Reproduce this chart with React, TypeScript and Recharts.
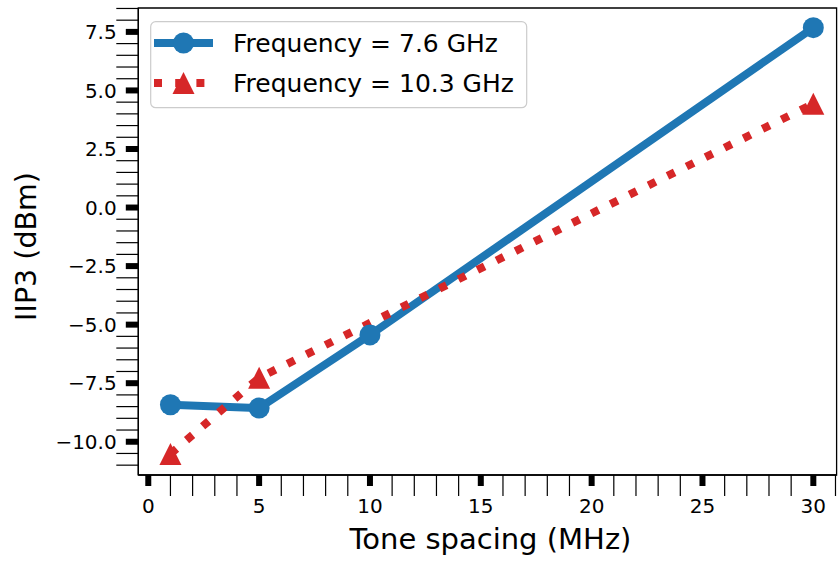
import React from "react";
import { LineChart, Line, XAxis, YAxis, ReferenceArea, Label } from "recharts";

// tone spacing (MHz) and measured IIP3 (dBm) per carrier frequency
const toneSpacing = [1, 5, 10, 30];
const iip3At76GHz = [-8.42, -8.56, -5.44, 7.68];
const iip3At103GHz: (number | null)[] = [-10.52, -7.27, null, 4.43];

const seriesNames = ["Frequency = 7.6 GHz", "Frequency = 10.3 GHz"];

const xMajorTicks = [0, 5, 10, 15, 20, 25, 30];
const xMinorTicks = [1, 2, 3, 4, 6, 7, 8, 9, 11, 12, 13, 14, 16, 17, 18, 19, 21, 22, 23, 24, 26, 27, 28, 29, 31];
const yMajorTicks = [-10, -7.5, -5, -2.5, 0, 2.5, 5, 7.5];
const yMinorTicks = [
  -11, -10.5, -9.5, -9, -8.5, -8, -7, -6.5, -6, -5.5, -4.5, -4, -3.5, -3, -2, -1.5, -1, -0.5,
  0.5, 1, 1.5, 2, 3, 3.5, 4, 4.5, 5.5, 6, 6.5, 7, 8, 8.5,
];

const xDomain = [-0.45, 31.05];
const yDomain = [-11.42, 8.52];

const BLUE = "#1f77b4";
const RED = "#d62728";
const FONT = "DejaVu Sans";

const chartData = toneSpacing.map((x, i) => ({
  x,
  f76: iip3At76GHz[i],
  f103: iip3At103GHz[i],
}));

const fmtY = (v: number) => v.toFixed(1).replace("-", "\u2212");

function XTick(props: any) {
  const { x, y, payload } = props;
  const v = payload.value;
  if (xMajorTicks.includes(v)) {
    return (
      <g>
        <line x1={x} x2={x} y1={y} y2={y + 11} stroke="#000" strokeWidth={6} />
        <text x={x} y={y + 38} textAnchor="middle" fontSize={20} fontFamily={FONT} fill="#000">
          {v}
        </text>
      </g>
    );
  }
  return <line x1={x} x2={x} y1={y} y2={y + 21} stroke="#000" strokeWidth={1.2} />;
}

function YTick(props: any) {
  const { x, y, payload } = props;
  const v = payload.value;
  if (yMajorTicks.includes(v)) {
    return (
      <g>
        <line x1={x - 12.5} x2={x} y1={y} y2={y} stroke="#000" strokeWidth={6} />
        <text x={x - 21.6} y={y + 7.3} textAnchor="end" fontSize={20} fontFamily={FONT} fill="#000">
          {fmtY(v)}
        </text>
      </g>
    );
  }
  return <line x1={x - 22} x2={x} y1={y} y2={y} stroke="#000" strokeWidth={1.2} />;
}

function XTitle(props: any) {
  const { viewBox } = props;
  return (
    <text
      x={viewBox.x + viewBox.width / 2 + 3}
      y={viewBox.y + 74}
      textAnchor="middle"
      fontSize={29}
      fontFamily={FONT}
      fill="#000"
    >
      Tone spacing (MHz)
    </text>
  );
}

function YTitle(props: any) {
  const { viewBox } = props;
  const cx = 35.5;
  const cy = viewBox.y + viewBox.height / 2 + 5;
  return (
    <text
      x={cx}
      y={cy}
      transform={`rotate(-90 ${cx} ${cy})`}
      textAnchor="middle"
      fontSize={28.5}
      fontFamily={FONT}
      fill="#000"
    >
      IIP3 (dBm)
    </text>
  );
}

const circleDot = (props: any) => {
  const { cx, cy, index } = props;
  if (cx == null || cy == null) return <g key={`c${index}`} />;
  return <circle key={`c${index}`} cx={cx} cy={cy} r={10.5} fill={BLUE} />;
};

const triPoints = (cx: number, cy: number, h: number) =>
  `${cx},${cy - h} ${cx - h},${cy + h} ${cx + h},${cy + h}`;

const triangleDot = (props: any) => {
  const { cx, cy, index } = props;
  if (cx == null || cy == null) return <g key={`t${index}`} />;
  return <polygon key={`t${index}`} points={triPoints(cx, cy, 11)} fill={RED} />;
};

function LegendBox() {
  return (
    <svg
      width={380}
      height={90}
      style={{ position: "absolute", left: 150, top: 21 }}
    >
      <rect x={0.7} y={0.7} width={376} height={86} rx={5} fill="rgba(255,255,255,0.8)" stroke="#cccccc" strokeWidth={1.2} />
      <line x1={4} x2={63} y1={22} y2={22} stroke={BLUE} strokeWidth={8} />
      <circle cx={33.5} cy={22} r={10.5} fill={BLUE} />
      <text x={83} y={31} fontSize={25} fontFamily={FONT} fill="#000">{seriesNames[0]}</text>
      <line x1={4} x2={63} y1={62} y2={62} stroke={RED} strokeWidth={8} strokeDasharray="8 13.2" />
      <polygon points={triPoints(33.5, 62, 11)} fill={RED} />
      <text x={83} y={71} fontSize={25} fontFamily={FONT} fill="#000">{seriesNames[1]}</text>
    </svg>
  );
}

export default function App() {
  return (
    <div style={{ position: "absolute", left: 0, top: 0, width: 840, height: 562, background: "#fff" }}>
      <LineChart
        width={840}
        height={562}
        data={chartData}
        margin={{ top: 8, right: 3.4, left: 0, bottom: 0 }}
      >
        <XAxis
          dataKey="x"
          type="number"
          domain={xDomain}
          allowDataOverflow
          ticks={[...xMajorTicks, ...xMinorTicks].sort((a, b) => a - b)}
          interval={0}
          tickSize={0}
          tickMargin={0}
          tickLine={false}
          tick={<XTick />}
          axisLine={{ stroke: "#000", strokeWidth: 1.3 }}
          height={87}
        >
          <Label content={XTitle} />
        </XAxis>
        <YAxis
          type="number"
          domain={yDomain}
          allowDataOverflow
          ticks={[...yMajorTicks, ...yMinorTicks].sort((a, b) => a - b)}
          interval={0}
          tickSize={0}
          tickMargin={0}
          tickLine={false}
          tick={<YTick />}
          axisLine={{ stroke: "#000", strokeWidth: 1.3 }}
          width={138.3}
        >
          <Label content={YTitle} />
        </YAxis>
        <Line
          dataKey="f76"
          stroke={BLUE}
          strokeWidth={8}
          dot={circleDot}
          activeDot={false}
          isAnimationActive={false}
        />
        <Line
          dataKey="f103"
          stroke={RED}
          strokeWidth={8}
          strokeDasharray="8 13.2"
          connectNulls
          dot={triangleDot}
          activeDot={false}
          isAnimationActive={false}
        />
        <ReferenceArea
          x1={xDomain[0]}
          x2={xDomain[1]}
          y1={yDomain[0]}
          y2={yDomain[1]}
          fill="none"
          stroke="#000"
          strokeWidth={1.3}
          ifOverflow="visible"
        />
      </LineChart>
      <LegendBox />
    </div>
  );
}
